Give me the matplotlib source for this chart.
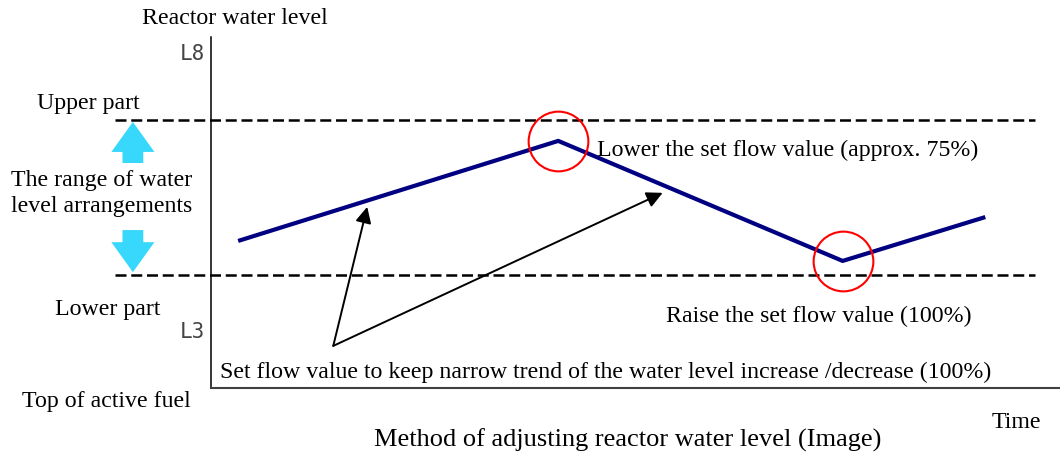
import matplotlib
matplotlib.use("Agg")
import matplotlib.pyplot as plt

# reactor water level trace (time in %, level in % of axis height)
time_pts = [3.2, 40.9, 74.4, 91.2]
level_pts = [41.9, 70.4, 36.2, 48.7]

upper_level = 76.4
lower_level = 32.2
band_start, band_end = -11.3, 97.1

level_ticks = [95.7, 16.5]
level_tick_labels = ["L8", "L3"]

# points where the set flow is changed (peak and trough)
marked_time = [time_pts[1], time_pts[2]]
marked_level = [level_pts[1], level_pts[2]]

# "set flow value" pointer: one tail, two heads
pointer_tail = (14.4, 12.0)
pointer_heads = [(18.4, 51.6), (53.2, 55.6)]

# range arrows outside the axes: (x, tail level, tip level)
range_arrows = [(-9.2, 64.1, 75.8), (-9.2, 45.0, 33.0)]

W, H = 1060, 455
serif = ["Liberation Serif", "DejaVu Serif"]

fig = plt.figure(figsize=(W / 100, H / 100), dpi=100)
ax = fig.add_axes([211 / W, 1 - 388 / H, (W - 211) / W, (388 - 37) / H])
ax.set_xlim(0, 100)
ax.set_ylim(0, 100)

for s in ["top", "right"]:
    ax.spines[s].set_visible(False)
ax.spines["left"].set_linewidth(1.1)
ax.spines["bottom"].set_linewidth(1.5)
ax.spines["bottom"].set_color("#404040")

ax.set_xticks([])
ax.set_yticks(level_ticks)
ax.set_yticklabels(level_tick_labels, fontsize=15, color="#444444",
                   family="DejaVu Sans Mono")
ax.tick_params(axis="y", length=0, pad=4)

# limits of the water level band
for lv in [upper_level, lower_level]:
    ax.plot([band_start, band_end], [lv, lv], color="black", lw=1.8,
            linestyle=(0, (4.4, 1.9)), clip_on=False)

ax.plot(time_pts, level_pts, color="#000080", lw=3, solid_capstyle="butt")

ax.plot(marked_time, marked_level, linestyle="none", marker="o",
        markersize=43, markerfacecolor="none", markeredgecolor="red",
        markeredgewidth=1.5)

for hx, hy in pointer_heads:
    ax.annotate("", xy=(hx, hy), xytext=pointer_tail,
                arrowprops=dict(arrowstyle="-|>", color="black", lw=1.4,
                                mutation_scale=24, shrinkA=0, shrinkB=0))

for x, y0, y1 in range_arrows:
    ax.annotate("", xy=(x, y1), xytext=(x, y0), annotation_clip=False,
                arrowprops=dict(arrowstyle="simple,head_length=21.6,head_width=31,tail_width=15",
                                mutation_scale=1, color="#38D8FC", lw=0,
                                shrinkA=0, shrinkB=0))


def label(px, py, s, ha="left", size=17.2):
    fig.text(px / W, 1 - py / H, s, ha=ha, va="center", fontsize=size,
             family=serif)


label(142, 18, "Reactor water level")
label(37, 103, "Upper part")
label(102, 181, "The range of water", ha="center")
label(102, 207, "level arrangements", ha="center")
label(55, 309, "Lower part")
label(22, 402, "Top of active fuel")
label(597, 150, "Lower the set flow value (approx. 75%)")
label(666, 316, "Raise the set flow value (100%)")
label(220, 372, "Set flow value to keep narrow trend of the water level increase /decrease (100%)")
label(992, 422, "Time")
label(628, 440, "Method of adjusting reactor water level (Image)", ha="center", size=19)

fig.savefig("out.png", dpi=100)
